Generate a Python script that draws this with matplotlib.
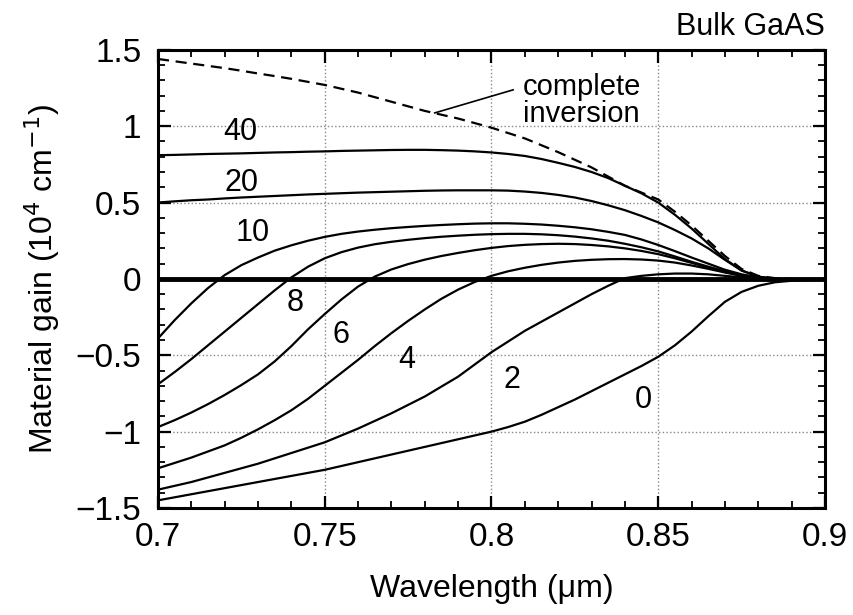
import matplotlib.pyplot as plt
from matplotlib.ticker import MultipleLocator

plt.rcParams['font.family'] = ['Liberation Sans', 'DejaVu Sans']

# wavelength grid (um), every 0.005
wl = [0.700, 0.705, 0.710, 0.715, 0.720, 0.725, 0.730, 0.735, 0.740, 0.745,
      0.750, 0.755, 0.760, 0.765, 0.770, 0.775, 0.780, 0.785, 0.790, 0.795,
      0.800, 0.805, 0.810, 0.815, 0.820, 0.825, 0.830, 0.835, 0.840, 0.845,
      0.850, 0.855, 0.860, 0.865, 0.870, 0.875, 0.880, 0.885, 0.890, 0.895, 0.900]

# material gain (1e4 cm^-1) for each carrier density label
g40 = [0.810, 0.812, 0.815, 0.818, 0.820, 0.822, 0.825, 0.828, 0.830, 0.833,
       0.835, 0.838, 0.840, 0.842, 0.844, 0.845, 0.845, 0.843, 0.840, 0.835,
       0.828, 0.818, 0.805, 0.785, 0.760, 0.733, 0.700, 0.660, 0.610, 0.560,
       0.500, 0.420, 0.330, 0.230, 0.130, 0.055, 0.015, 0.000, -0.005, -0.005, -0.005]
g20 = [0.500, 0.508, 0.515, 0.520, 0.527, 0.533, 0.538, 0.543, 0.548, 0.553,
       0.557, 0.561, 0.565, 0.568, 0.571, 0.574, 0.577, 0.579, 0.580, 0.580,
       0.580, 0.578, 0.572, 0.563, 0.550, 0.533, 0.510, 0.482, 0.450, 0.412,
       0.370, 0.320, 0.265, 0.200, 0.125, 0.055, 0.015, 0.000, -0.005, -0.005, -0.005]
g10 = [-0.390, -0.270, -0.160, -0.060, 0.025, 0.090, 0.140, 0.185, 0.220, 0.250,
       0.275, 0.295, 0.310, 0.322, 0.332, 0.340, 0.347, 0.353, 0.358, 0.362,
       0.364, 0.364, 0.361, 0.356, 0.348, 0.338, 0.325, 0.308, 0.288, 0.258,
       0.222, 0.182, 0.140, 0.100, 0.060, 0.030, 0.010, 0.000, -0.005, -0.005, -0.005]
g8 = [-0.690, -0.610, -0.525, -0.435, -0.345, -0.255, -0.165, -0.075, 0.010, 0.080,
      0.135, 0.175, 0.205, 0.227, 0.243, 0.256, 0.267, 0.276, 0.283, 0.289,
      0.293, 0.295, 0.295, 0.292, 0.286, 0.277, 0.265, 0.250, 0.230, 0.207,
      0.180, 0.147, 0.112, 0.080, 0.050, 0.025, 0.008, 0.000, -0.005, -0.005, -0.005]
g6 = [-0.970, -0.925, -0.875, -0.820, -0.760, -0.695, -0.625, -0.540, -0.440, -0.330,
      -0.230, -0.135, -0.050, 0.015, 0.062, 0.097, 0.126, 0.150, 0.170, 0.188,
      0.203, 0.215, 0.223, 0.228, 0.230, 0.228, 0.222, 0.213, 0.200, 0.183,
      0.162, 0.135, 0.105, 0.075, 0.045, 0.022, 0.006, 0.000, -0.005, -0.005, -0.005]
g4 = [-1.240, -1.205, -1.170, -1.130, -1.090, -1.040, -0.985, -0.925, -0.860, -0.785,
      -0.700, -0.615, -0.530, -0.440, -0.355, -0.275, -0.200, -0.130, -0.070, -0.020,
      0.020, 0.050, 0.073, 0.092, 0.107, 0.118, 0.125, 0.129, 0.130, 0.127,
      0.120, 0.107, 0.088, 0.066, 0.042, 0.020, 0.005, 0.000, -0.005, -0.005, -0.005]
g2 = [-1.380, -1.355, -1.330, -1.300, -1.270, -1.240, -1.210, -1.175, -1.140, -1.105,
      -1.070, -1.025, -0.980, -0.930, -0.880, -0.825, -0.770, -0.705, -0.640, -0.560,
      -0.480, -0.410, -0.340, -0.280, -0.220, -0.160, -0.100, -0.045, 0.005, 0.020,
      0.030, 0.035, 0.035, 0.030, 0.020, 0.010, 0.003, 0.000, -0.005, -0.005, -0.005]
g0 = [-1.450, -1.430, -1.410, -1.390, -1.370, -1.350, -1.330, -1.310, -1.290, -1.270,
      -1.250, -1.225, -1.200, -1.175, -1.150, -1.125, -1.100, -1.075, -1.050, -1.025,
      -1.000, -0.970, -0.935, -0.890, -0.840, -0.790, -0.735, -0.680, -0.625, -0.570,
      -0.510, -0.435, -0.345, -0.245, -0.150, -0.085, -0.045, -0.022, -0.012, -0.007, -0.005]
g_inv = [1.440, 1.425, 1.410, 1.395, 1.380, 1.363, 1.345, 1.328, 1.310, 1.290,
         1.270, 1.245, 1.220, 1.190, 1.160, 1.130, 1.100, 1.075, 1.050, 1.020,
         0.990, 0.955, 0.920, 0.875, 0.830, 0.780, 0.730, 0.670, 0.610, 0.565,
         0.520, 0.440, 0.350, 0.250, 0.150, 0.065, 0.020, 0.005, 0.000, 0.000, 0.000]

curves = [g40, g20, g10, g8, g6, g4, g2, g0]
labels = ['40', '20', '10', '8', '6', '4', '2', '0']
label_pos = [(0.7246, 0.96), (0.725, 0.63), (0.7285, 0.30), (0.741, -0.16),
             (0.755, -0.37), (0.7747, -0.53), (0.806, -0.66), (0.8454, -0.79)]

fig = plt.figure(figsize=(8.54, 6.15), dpi=100)
ax = fig.add_axes([0.185, 0.174, 0.781, 0.745])

ax.grid(True, which='major', ls=':', color='#888888', lw=1.0)
ax.axhline(0, color='black', lw=3.5, zorder=3)

for y in curves:
    ax.plot(wl, y, color='black', lw=1.6, zorder=4)
ax.plot(wl, g_inv, color='black', lw=1.6, ls=(0, (5, 3)), zorder=4)

for lab, (x, y) in zip(labels, label_pos):
    ax.text(x, y, lab, fontsize=22, ha='center', va='center')

ax.plot([0.783, 0.8065], [1.087, 1.238], color='black', lw=1.2)
ax.text(0.8094, 1.17, 'complete\ninversion', fontsize=21, ha='left', va='center',
        linespacing=0.95)

ax.set_xlim(0.7, 0.9)
ax.set_ylim(-1.5, 1.5)
ax.xaxis.set_major_locator(MultipleLocator(0.05))
ax.xaxis.set_minor_locator(MultipleLocator(0.01))
ax.yaxis.set_major_locator(MultipleLocator(0.5))
ax.yaxis.set_minor_locator(MultipleLocator(0.1))
ax.xaxis.set_major_formatter(plt.FuncFormatter(lambda v, p: '%g' % round(v, 3)))
ax.yaxis.set_major_formatter(plt.FuncFormatter(
    lambda v, p: ('%g' % round(v, 2)).replace('-', '\u2212')))
ax.tick_params(which='both', direction='in', top=True, right=True, labelsize=24)
ax.tick_params(axis='x', which='major', length=9, width=1.6, pad=10)
ax.tick_params(axis='y', which='major', length=9, width=1.6, pad=12)
ax.tick_params(which='minor', length=5, width=1.3)
for s in ax.spines.values():
    s.set_linewidth(2.2)

ax.set_xlabel('Wavelength (\u03bcm)', fontsize=23, labelpad=15)
ax.set_ylabel('Material gain (10$^{4}$ cm$^{-1}$)', fontsize=23, labelpad=10)
ax.set_title('Bulk GaAS', fontsize=22, loc='right', pad=11)

fig.savefig('out.png', dpi=100)
